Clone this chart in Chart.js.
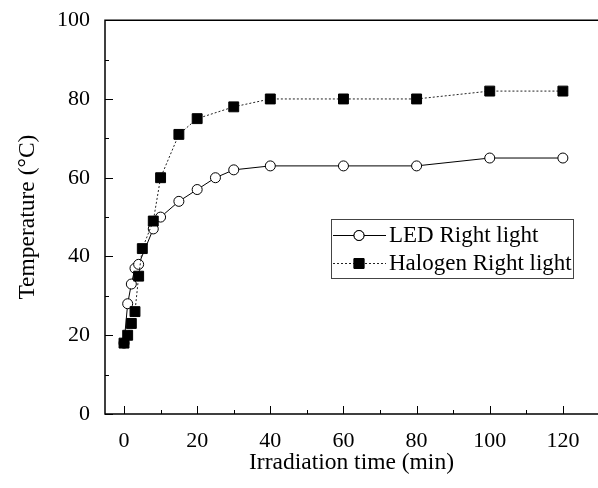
<!DOCTYPE html>
<html>
<head>
<meta charset="utf-8">
<script src="https://cdn.jsdelivr.net/npm/chart.js@4.4.1/dist/chart.umd.min.js"></script>
<style>
  html, body { margin: 0; padding: 0; background: #fff; }
  #wrap { width: 598px; height: 488px; }
</style>
</head>
<body>
<div id="wrap"><canvas id="chart" width="598" height="488"></canvas></div>
<script>
// time points (min) and temperatures (°C)
const ledTime = [0, 1, 2, 3, 4, 8, 10, 15, 20, 25, 30, 40, 60, 80, 100, 120];
const ledTemp = [18, 28, 33, 37, 38, 47, 50, 54, 57, 60, 62, 63, 63, 63, 65, 65];
const halogenTime = [0, 1, 2, 3, 4, 5, 8, 10, 15, 20, 30, 40, 60, 80, 100, 120];
const halogenTemp = [18, 20, 23, 26, 35, 42, 49, 60, 71, 75, 78, 80, 80, 80, 82, 82];
const seriesNames = ["LED Right light", "Halogen Right light"];
const xLabels = [0, 20, 40, 60, 80, 100, 120];
const yLabels = [0, 20, 40, 60, 80, 100];

const FONT = "'Liberation Serif', 'Times New Roman', serif";

function toPoints(xs, ys) {
  return xs.map((x, i) => ({ x: x, y: ys[i] }));
}

// ticks pointing into the plot, major + minor
const inwardTicks = {
  id: "inwardTicks",
  afterDraw(chart) {
    const ctx = chart.ctx;
    const a = chart.chartArea;
    const xs = chart.scales.x, ys = chart.scales.y;
    ctx.save();
    ctx.strokeStyle = "#000";
    ctx.lineWidth = 1;
    ctx.beginPath();
    for (let v = 0; v <= 120; v += 10) {
      const px = Math.round(xs.getPixelForValue(v)) + 0.5;
      const len = xLabels.includes(v) ? 8 : 4;
      ctx.moveTo(px, a.bottom);
      ctx.lineTo(px, a.bottom - len);
    }
    for (let v = 0; v <= 100; v += 10) {
      const py = Math.round(ys.getPixelForValue(v)) + 0.5;
      const len = yLabels.includes(v) ? 8 : 4;
      ctx.moveTo(a.left, py);
      ctx.lineTo(a.left + len, py);
    }
    ctx.stroke();
    // frame: left, bottom, top
    ctx.lineWidth = 1.5;
    ctx.beginPath();
    ctx.moveTo(a.right, a.top);
    ctx.lineTo(a.left, a.top);
    ctx.lineTo(a.left, a.bottom);
    ctx.lineTo(a.right, a.bottom);
    ctx.stroke();
    ctx.restore();
  }
};

// boxed legend with line + marker samples
const boxLegend = {
  id: "boxLegend",
  afterDraw(chart) {
    const ctx = chart.ctx;
    const bx = 331, by = 219, bw = 242, bh = 59;
    ctx.save();
    ctx.fillStyle = "#fff";
    ctx.fillRect(bx, by, bw, bh);
    ctx.strokeStyle = "#444";
    ctx.lineWidth = 1;
    ctx.strokeRect(bx + 0.5, by + 0.5, bw, bh);
    chart.data.datasets.forEach((ds, i) => {
      const cy = by + 16 + i * 28;
      ctx.strokeStyle = ds.borderColor;
      ctx.lineWidth = 1;
      ctx.setLineDash(ds.borderDash || []);
      ctx.beginPath();
      ctx.moveTo(bx + 2, cy + 0.5);
      ctx.lineTo(bx + 55, cy + 0.5);
      ctx.stroke();
      ctx.setLineDash([]);
      Chart.helpers.drawPoint(ctx, {
        pointStyle: ds.pointStyle,
        radius: ds.pointRadius,
        borderWidth: 1
      }, bx + 28, cy + 0.5);
      ctx.fillStyle = ds.pointBackgroundColor;
      ctx.strokeStyle = ds.pointBorderColor;
      ctx.fill();
      ctx.stroke();
      ctx.fillStyle = "#000";
      ctx.font = "23px " + FONT;
      ctx.textBaseline = "middle";
      ctx.fillText(ds.label, bx + 58, cy + 1);
    });
    ctx.restore();
  }
};

new Chart(document.getElementById("chart"), {
  type: "scatter",
  data: {
    datasets: [
      {
        label: seriesNames[0],
        data: toPoints(ledTime, ledTemp),
        showLine: true,
        borderColor: "#000",
        borderWidth: 1,
        pointStyle: "circle",
        pointRadius: 5,
        pointBackgroundColor: "#fff",
        pointBorderColor: "#000",
        pointBorderWidth: 1,
        order: 1
      },
      {
        label: seriesNames[1],
        data: toPoints(halogenTime, halogenTemp),
        showLine: true,
        borderColor: "#222",
        borderWidth: 1,
        borderDash: [2, 2],
        pointStyle: "rect",
        pointRadius: 7,
        pointBackgroundColor: "#000",
        pointBorderColor: "#000",
        pointBorderWidth: 1,
        order: 0
      }
    ]
  },
  options: {
    responsive: false,
    animation: false,
    layout: { autoPadding: false, padding: { top: 18, right: 0, left: 0, bottom: 0 } },
    plugins: {
      legend: { display: false },
      tooltip: { enabled: false }
    },
    scales: {
      x: {
        type: "linear",
        min: -5.2,
        max: 129.6,
        afterFit: s => { s.height = 74; },
        afterBuildTicks: s => { s.ticks = xLabels.map(v => ({ value: v })); },
        border: { display: false },
        grid: { display: false },
        ticks: {
          color: "#000",
          padding: 6,
          font: { family: FONT, size: 22 },
          maxRotation: 0
        },
        title: {
          display: true,
          text: "Irradiation time (min)",
          color: "#000",
          font: { family: FONT, size: 23.5 },
          padding: { top: 0, bottom: 11 }
        }
      },
      y: {
        min: 0,
        max: 100,
        afterFit: s => { s.width = 105; },
        afterBuildTicks: s => { s.ticks = yLabels.map(v => ({ value: v })); },
        border: { display: false },
        grid: { display: false },
        ticks: {
          color: "#000",
          padding: 7,
          font: { family: FONT, size: 22 }
        },
        title: {
          display: true,
          text: "Temperature (°C)",
          color: "#000",
          font: { family: FONT, size: 23.5 },
          padding: { top: 14, bottom: 0 }
        }
      }
    }
  },
  plugins: [inwardTicks, boxLegend]
});
</script>
</body>
</html>
